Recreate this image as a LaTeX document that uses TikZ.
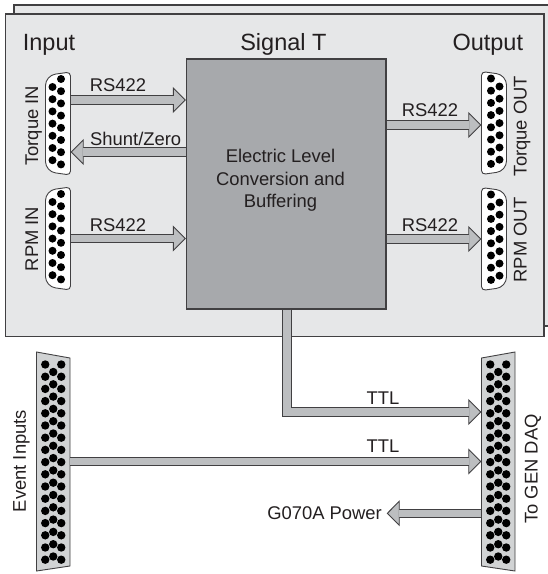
\documentclass[tikz,border=0pt]{standalone}
\usepackage{fontspec}
\setmainfont{Liberation Sans}
\usetikzlibrary{arrows.meta, positioning}
\definecolor{inkc}{HTML}{231F20}
\definecolor{panelc}{HTML}{E6E7E8}
\definecolor{edgec}{HTML}{414042}
\definecolor{sigc}{HTML}{A7A9AC}
\definecolor{busc}{HTML}{BCBEC0}
\definecolor{bigc}{HTML}{D1D3D4}

% 15 pin connector: name, x, y, side (1 or -1)
\newcommand{\dbsmall}[4]{%
  \node[conn] (#1) at (#2,#3) {};
  \begin{scope}[shift={(#2,#3)}, xscale=#4]
    \draw[shell, fill=white, rounded corners=10pt] (-12.5,0) -- (-12.5,-48)
      [rounded corners=4pt] -- (12.5,-51.5) -- (12.5,51.5)
      [rounded corners=10pt] -- (-12.5,48) -- cycle;
    \foreach \i in {0,...,7}
      \fill (3,-44.5+\i*12.2) circle (4pt);
    \foreach \i in {0,...,6}
      \fill (-5.5,-36.5+\i*12.2) circle (4pt);
  \end{scope}
}
% 50 pin connector: name, x, y, side (1 or -1)
\newcommand{\dbbig}[4]{%
  \node[conn, minimum width=33.5pt, minimum height=208pt] (#1) at (#2,#3) {};
  \begin{scope}[shift={(#2,#3)}, xscale=#4]
    \draw[shell, fill=bigc] (-16.75,-109.5) -- (16.75,-103.5) -- (16.75,104.5)
      -- (-16.75,109.5) -- cycle;
    \foreach \i in {0,...,16} {
      \fill (-8,-97+\i*12.2) circle (4.2pt);
      \fill (8,-97+\i*12.2) circle (4.2pt);
    }
    \foreach \i in {0,...,15}
      \fill (0,-89.5+\i*12.3) circle (4.2pt);
  \end{scope}
}

\begin{document}
\begin{tikzpicture}[x=1pt, y=-1pt,
    conn/.style={rectangle, draw=none, inner sep=0pt, minimum width=25pt, minimum height=103pt},
    shell/.style={draw=edgec, line width=.9pt},
    panel/.style={draw=edgec, fill=panelc, line width=1.2pt},
    sigbox/.style={rectangle, draw=edgec, fill=sigc, line width=1.2pt, inner sep=0pt,
                   minimum width=199.5pt, minimum height=250pt},
    head/.style={font=\fontsize{23.5}{26}\selectfont, text=inkc, inner sep=0pt},
    lbl/.style={font=\fontsize{18.4}{22.5}\selectfont, text=inkc, inner sep=0pt, align=center},
    bus/.style={draw=edgec, line width=9.2pt,
      -{Triangle[length=13pt, width=26pt, line width=.9pt, fill=busc]},
      postaction={draw=busc, line width=7.4pt, -, shorten >=12pt}}
]
\useasboundingbox (0,0) rectangle (548,574);
% panels
\draw[panel] (14,5) rectangle (560,326);
\draw[panel] (5.5,14) rectangle (544,336.5);
\node[sigbox] (sig) at (286.25,184) {};
\node[lbl] (sigtxt) at (280.5,180.6) {Electric Level\\Conversion and\\Buffering};
% headings
\node[head, anchor=base] (inhead) at (49,50.7) {Input};
\node[head, anchor=base] (sighead) at (283.4,50.7) {Signal T};
\node[head, anchor=base] (outhead) at (487.8,50.4) {Output};
% connectors
\dbsmall{tqin}{58}{123.5}{1}
\dbsmall{rpmin}{58}{238.5}{1}
\dbsmall{tqout}{494}{123}{-1}
\dbsmall{rpmout}{494}{239}{-1}
\dbbig{evin}{53.25}{461.5}{1}
\dbbig{gendaq}{498.25}{461.5}{-1}
% connector labels
\node[lbl, rotate=90, anchor=base] (tqinlbl) at (38,125.7) {Torque IN};
\node[lbl, rotate=90, anchor=base] (rpminlbl) at (38,239) {RPM IN};
\node[lbl, rotate=90, anchor=base] (tqoutlbl) at (526.7,126) {Torque OUT};
\node[lbl, rotate=90, anchor=base] (rpmoutlbl) at (526.7,240) {RPM OUT};
\node[lbl, rotate=90, anchor=base] (evinlbl) at (26,461) {Event Inputs};
\node[lbl, rotate=90, anchor=base] (gendaqlbl) at (537.7,469) {To GEN DAQ};
% signal labels
\node[lbl, anchor=base] (rsa) at (118,91.7) {RS422};
\node[lbl, anchor=base] (shunt) at (135.7,145) {Shunt/Zero};
\node[lbl, anchor=base] (rsb) at (118,231.7) {RS422};
\node[lbl, anchor=base] (rsc) at (430,116) {RS422};
\node[lbl, anchor=base] (rsd) at (430,231.7) {RS422};
\node[lbl, anchor=base] (ttla) at (383,404) {TTL};
\node[lbl, anchor=base] (ttlb) at (383,452.5) {TTL};
\node[lbl, anchor=base east] (pwr) at (382,519) {G070A Power};
% buses
\draw[bus] ([yshift=23.5pt]tqin.east) -- ([yshift=84pt]sig.west);
\draw[bus] ([yshift=32pt]sig.west) -- ([yshift=-28.5pt]tqin.east);
\draw[bus] (rpmin.east) -- ([yshift=-54.5pt]sig.west);
\draw[bus] ([yshift=59pt]sig.east) -- ([yshift=-2pt]tqout.west);
\draw[bus] ([yshift=-55pt]sig.east) -- (rpmout.west);
\draw[bus] ([xshift=.75pt]sig.south) |- ([yshift=49.5pt]gendaq.west);
\draw[bus] (evin.east) -- (gendaq.west);
\draw[bus] ([yshift=-51.8pt]gendaq.west) -- ([xshift=4.7pt, yshift=5.7pt]pwr.base east);
\end{tikzpicture}
\end{document}
